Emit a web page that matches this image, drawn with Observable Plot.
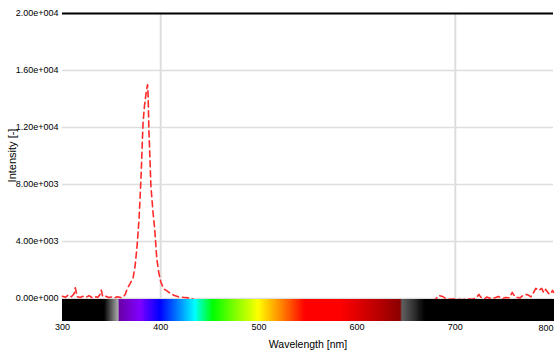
<!DOCTYPE html>
<html>
<head>
<meta charset="utf-8">
<script src="https://cdn.jsdelivr.net/npm/d3@7"></script>
<script src="https://cdn.jsdelivr.net/npm/@observablehq/plot@0.6"></script>
<style>
  html, body { margin: 0; padding: 0; background: #fff; }
</style>
</head>
<body>
<div id="chart"></div>
<script>
// Spectrum samples (wavelength in nm, intensity)
const wavelength = [300,303,306,309,312,313,315,318,321,324,327,330,333,336,338,339.5,341,344,347,350,353,356,359,362,364,
  366,369,372,374,376,378,380,382,383.5,385.5,386.6,387.2,388,390,392,394,396,398,400,402,404,407,410,414,418,424,430,436,
  450,475,500,525,550,575,600,625,650,675,
  680,683,687,692,697,702,707,712,718,722,724,726,730,732,737,741,744,748,751,755,758,761,763,766,769,773,777,780,782,785,788,790,792,795,797,799,800];
const intensity = [150,80,250,120,350,750,120,60,150,80,200,60,120,80,250,580,120,150,60,100,40,120,60,100,300,
  700,1050,1470,2320,3720,5610,8560,12280,13540,14600,15000,14200,11800,7930,6180,4770,2810,1830,1190,840,630,490,350,210,110,70,30,-150,
  -200,-220,-180,-200,-210,-190,-200,-220,-200,-180,
  -50,210,140,-80,-40,-50,-100,-30,-60,100,280,90,-20,90,-10,60,140,-20,70,40,420,90,70,40,210,280,120,450,700,560,700,400,630,350,300,560,420];

// Axis ticks
const xTicks = [300, 400, 500, 600, 700];
const xLastTick = [800];
const xGrid = [400, 700];
const yTicks = [0, 4000, 8000, 12000, 16000, 20000];

// Visible-spectrum colour bar stops
const specNm = [300, 343, 357, 358.5, 379, 400, 418, 435, 454, 476, 500, 524, 547, 583, 619, 644, 646, 670, 800];
const specColor = ["#000000","#000000","#aaaaaa","#6a00a8","#8000ff","#0000ff","#0080ff","#00ffff","#00ff00","#80ff00",
  "#ffff00","#ff8000","#ff0000","#ff0000","#c00000","#8b0000","#606060","#000000","#000000"];

const data = wavelength.map((nm, i) => ({nm, v: intensity[i]}));
const colorAt = d3.scaleLinear().domain(specNm).range(specColor).interpolate(d3.interpolateRgb);
const bar = d3.range(300, 800, 1).map(nm => ({x1: nm, x2: nm + 1.6, c: colorAt(nm + 0.5)}));

const fmt = v => d3.format(".2e")(v).replace(/e([+-])(\d+)/, (m, s, d) => "e" + s + d.padStart(3, "0"));

const chart = Plot.plot({
  width: 555,
  height: 350,
  marginLeft: 62,
  marginRight: 2,
  marginTop: 13,
  marginBottom: 29,
  style: {fontFamily: "'Liberation Sans', Arial, sans-serif", fontSize: "9px", background: "#fff", color: "#000"},
  x: {domain: [300, 800]},
  y: {domain: [-1620, 20000]},
  color: {type: "identity"},
  marks: [
    Plot.ruleY(yTicks, {stroke: "#dddddd", strokeWidth: 1.5}),
    Plot.ruleX(xGrid, {stroke: "#dddddd", strokeWidth: 2}),
    Plot.line(data, {x: "nm", y: "v", stroke: "#ff2a2a", strokeWidth: 1.6, strokeDasharray: "6,4"}),
    Plot.rect(bar, {x1: "x1", x2: "x2", y1: -1620, y2: -100, fill: "c", shapeRendering: "crispEdges"}),
    Plot.ruleY([20000], {stroke: "#000", strokeWidth: 2}),
    Plot.axisY(yTicks, {tickSize: 0, tickPadding: 4, tickFormat: fmt, label: null, fontSize: 9}),
    Plot.axisX(xTicks, {tickSize: 0, tickPadding: 2, tickFormat: d => String(d), label: null, fontSize: 9}),
    Plot.text(xLastTick, {x: d => d, frameAnchor: "bottom", textAnchor: "end", lineAnchor: "top", dy: 3, fontSize: 9, fill: "#000"}),
    Plot.text(["Wavelength [nm]"], {frameAnchor: "bottom", lineAnchor: "bottom", dy: 26, fontSize: 10.5, fill: "#000"}),
    Plot.text(["Intensity [-]"], {frameAnchor: "left", textAnchor: "middle", rotate: -90, dx: -50, dy: -12, fontSize: 11, fill: "#000"})
  ]
});
document.getElementById("chart").appendChild(chart);
</script>
</body>
</html>
